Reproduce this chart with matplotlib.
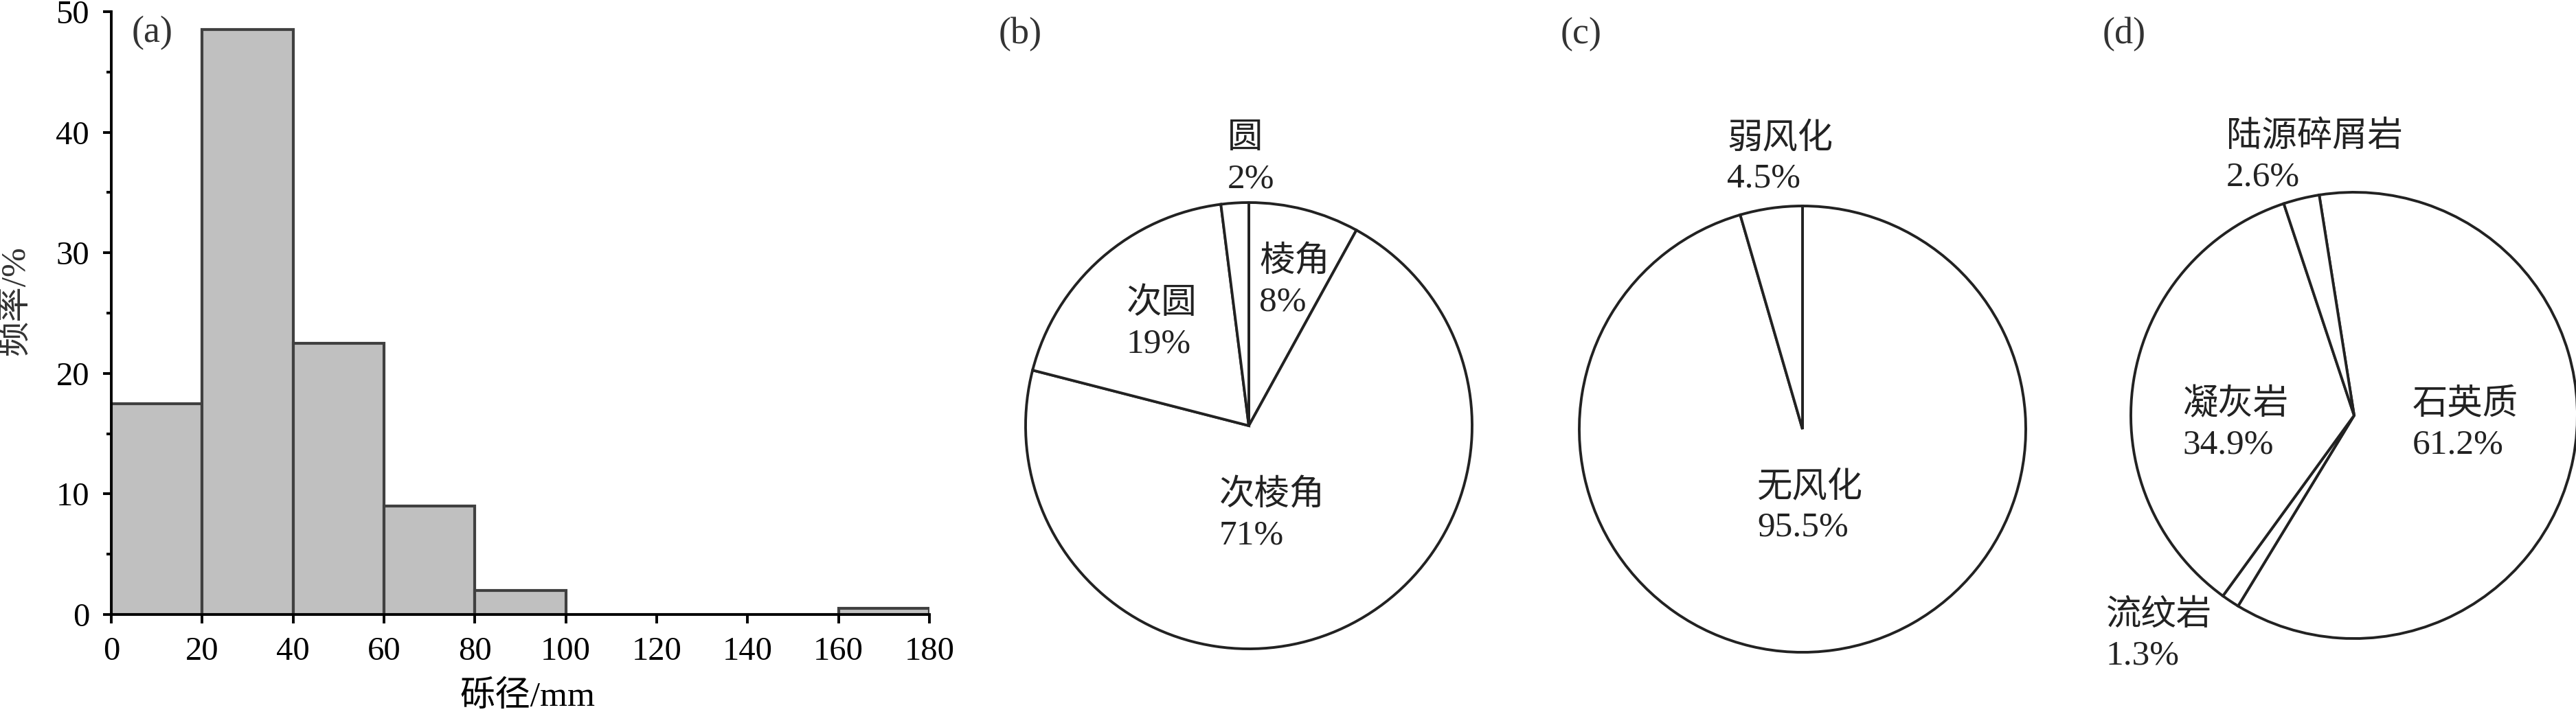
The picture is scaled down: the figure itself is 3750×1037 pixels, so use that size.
import numpy as np
import matplotlib
matplotlib.use("Agg")
import matplotlib.pyplot as plt
from matplotlib.ticker import MultipleLocator

plt.rcParams['font.family'] = ['Liberation Serif', 'Noto Sans CJK SC']

# (a) gravel size histogram
bin_left = [0, 20, 40, 60, 80, 100, 120, 140, 160]
freq = [17.5, 48.5, 22.5, 9, 2, 0, 0, 0, 0.5]

# (b) roundness
round_names = ['棱角', '次棱角', '次圆', '圆']
round_pct = [8, 71, 19, 2]
# (c) weathering
weath_names = ['无风化', '弱风化']
weath_pct = [95.5, 4.5]
# (d) lithology
lith_names = ['石英质', '流纹岩', '凝灰岩', '陆源碎屑岩']
lith_pct = [61.2, 1.3, 34.9, 2.6]

W, H = 3750, 1037
fig = plt.figure(figsize=(W / 100, H / 100), dpi=100)

TXT = '#222222'
EDGE = '#222222'

# ---- histogram ----
x0, x1, ytop, ybot = 162, 1353, 17, 895
ax = fig.add_axes([x0 / W, 1 - ybot / H, (x1 - x0) / W, (ybot - ytop) / H])
ax.bar(bin_left, freq, width=20, align='edge', color='#c0c0c0',
       edgecolor='#404040', linewidth=3.0)
ax.set_xlim(0, 180)
ax.set_ylim(0, 50)
ax.xaxis.set_major_locator(MultipleLocator(20))
ax.yaxis.set_major_locator(MultipleLocator(10))
ax.yaxis.set_minor_locator(MultipleLocator(5))
for s in ['top', 'right']:
    ax.spines[s].set_visible(False)
for s in ['left', 'bottom']:
    ax.spines[s].set_linewidth(2.8)
ax.tick_params(which='major', length=9, width=2.8, labelsize=35, pad=14)
ax.tick_params(which='minor', length=5, width=2.8)
ax.set_xlabel('砾径/mm', fontsize=37)
ax.xaxis.set_label_coords(0.509, -0.11)
ax.set_ylabel('频率/%', fontsize=37, color='#333333')
ax.yaxis.set_label_coords(-0.098, 0.52)
fig.text(192 / W, 1 - 48 / H, '(a)', fontsize=39, color='#333333',
         ha='left', va='center')

R = 325.0
HALF = 400.0


def pie_axes(cx, cy):
    a = fig.add_axes([(cx - HALF) / W, 1 - (cy + HALF) / H, 2 * HALF / W, 2 * HALF / H])
    return a


def finish(a):
    a.set_xlim(-HALF / R, HALF / R)
    a.set_ylim(-HALF / R, HALF / R)
    a.set_aspect('equal')
    a.axis('off')


def lab(a, cx, cy, px, py, name, pct):
    a.text((px - cx) / R, (cy - py) / R, name, fontsize=37, color=TXT,
           ha='left', va='center')
    a.text((px - cx) / R, (cy - py - 58) / R, pct, fontsize=37, color=TXT,
           ha='left', va='center')


wp = dict(edgecolor=EDGE, linewidth=2.8, facecolor='white')

# ---- (b) ----
cx, cy = 1818, 620
a = pie_axes(cx, cy)
a.pie(round_pct, startangle=90, counterclock=False, radius=1, wedgeprops=wp)
finish(a)
pos_b = [(1833, 382), (1775, 722), (1640, 443), (1787, 203)]
for (px, py), n, p in zip(pos_b, round_names, round_pct):
    lab(a, cx, cy, px, py, n, f'{p}%')
fig.text(1454 / W, 1 - 50 / H, '(b)', fontsize=39, color='#333333', va='center')

# ---- (c) ----
cx, cy = 2624, 625
a = pie_axes(cx, cy)
a.pie(weath_pct, startangle=90, counterclock=False, radius=1, wedgeprops=wp)
finish(a)
pos_c = [(2558, 710), (2514, 202)]
for (px, py), n, p in zip(pos_c, weath_names, weath_pct):
    lab(a, cx, cy, px, py, n, f'{p}%')
fig.text(2272 / W, 1 - 50 / H, '(c)', fontsize=39, color='#333333', va='center')

# ---- (d) ----
cx, cy = 3427, 605
a = pie_axes(cx, cy)
a.pie(lith_pct, startangle=99, counterclock=False, radius=1, wedgeprops=wp)
finish(a)
pos_d = [(3512, 590), (3066, 897), (3177, 590), (3241, 200)]
for (px, py), n, p in zip(pos_d, lith_names, lith_pct):
    lab(a, cx, cy, px, py, n, f'{p}%')
fig.text(3061 / W, 1 - 50 / H, '(d)', fontsize=39, color='#333333', va='center')

fig.savefig('out.png', dpi=100)
